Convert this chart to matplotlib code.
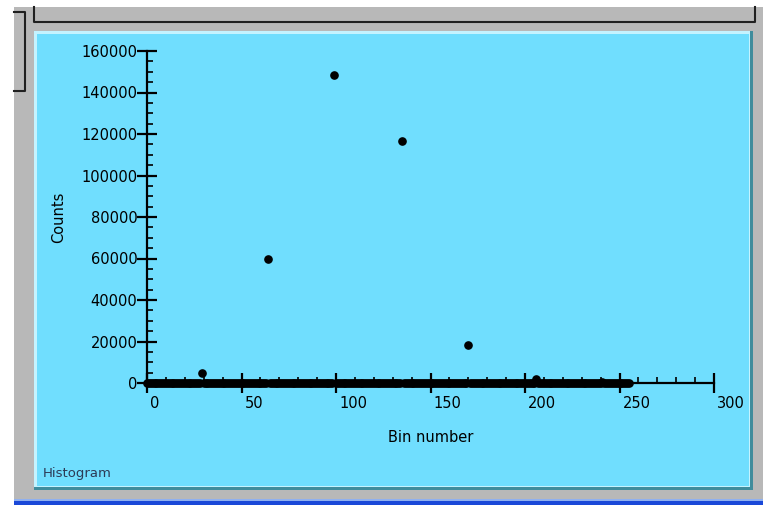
import numpy as np
import matplotlib
matplotlib.use('Agg')
import matplotlib.pyplot as plt
from matplotlib.patches import Rectangle
from matplotlib.lines import Line2D
from matplotlib.transforms import ScaledTranslation

W, H = 763, 505
FONTSIZE = 10.5

# data: 256 histogram bins, mostly empty
n_bins = 256
peak_bins = [29, 64, 99, 135, 170, 206, 241]
peak_counts = [5000, 59800, 148500, 116500, 18300, 2000, 500]

x_ticks = [0, 50, 100, 150, 200, 250, 300]
y_ticks = [0, 20000, 40000, 60000, 80000, 100000, 120000, 140000, 160000]

bins = np.arange(n_bins)
counts = np.zeros(n_bins)
counts[peak_bins] = peak_counts

PANEL = '#70defe'
GRAY = '#b8b8b8'

plt.rc('font', family='DejaVu Sans', size=FONTSIZE)
fig = plt.figure(figsize=(W / 100, H / 100), dpi=100)
fig.patch.set_facecolor('white')


def rect(x0, y0, x1, y1, color):
    # pixel box, y measured from the top of the image
    fig.patches.append(Rectangle((x0 / W, 1 - y1 / H), (x1 - x0) / W, (y1 - y0) / H,
                                 transform=fig.transFigure, facecolor=color,
                                 edgecolor='none', zorder=-2))


def line(xs, ys, color='#202020', lw=1.5):
    fig.lines.append(Line2D([x / W for x in xs], [1 - y / H for y in ys],
                            transform=fig.transFigure, color=color, lw=lw, zorder=-1))


# window background and frames
rect(14, 7, W, 500, GRAY)
rect(14, 499, W, 501, '#8fb0f0')
rect(14, 501, W, H, '#1a48d8')
line([14, 25, 25, 14], [12, 12, 91, 91])
line([34, 34, 755, 755], [7, 21.5, 21.5, 7])

# cyan panel with bevel
rect(34, 31, 753, 490, '#3f8c9c')
rect(34, 31, 750, 487, '#c4f3ff')
rect(37, 34, 749, 486, PANEL)

fig.text(43 / W, 1 - 474 / H, 'Histogram', fontsize=9.5, color='#2c3a55',
         ha='left', va='center')

ax = fig.add_axes([147 / W, 1 - 383 / H, (714 - 147) / W, (383 - 51) / H])
ax.set_zorder(5)
ax.patch.set_alpha(0)
ax.plot(bins, counts, 'o', color='black', markersize=5.2, clip_on=False, zorder=3)

ax.set_xlim(0, 300)
ax.set_ylim(0, 160000)
ax.set_xticks(x_ticks)
ax.set_xticklabels([str(v) for v in x_ticks])
ax.set_xticks(np.arange(0, 301, 10), minor=True)
ax.set_yticks(y_ticks)
ax.set_yticklabels([str(v) for v in y_ticks])
ax.set_yticks(np.arange(0, 160001, 5000), minor=True)

for s in ['top', 'right']:
    ax.spines[s].set_visible(False)
for s in ['left', 'bottom']:
    ax.spines[s].set_linewidth(1.6)
    ax.spines[s].set_color('black')

ax.tick_params(which='major', direction='inout', length=14, width=1.6, colors='black')
ax.tick_params(which='minor', direction='in', length=4.3, width=1.2, colors='black')
ax.tick_params(axis='x', which='major', pad=2)
ax.tick_params(axis='y', which='major', pad=0)

# x labels sit left-aligned just right of each tick
offset = ScaledTranslation(3 / 100, 0, fig.dpi_scale_trans)
for lab in ax.get_xticklabels():
    lab.set_horizontalalignment('left')
    lab.set_transform(lab.get_transform() + offset)

ax.set_xlabel('Bin number', fontsize=FONTSIZE, labelpad=14)
ax.set_ylabel('Counts', fontsize=FONTSIZE, labelpad=11)

fig.savefig('out.png', dpi=100)
